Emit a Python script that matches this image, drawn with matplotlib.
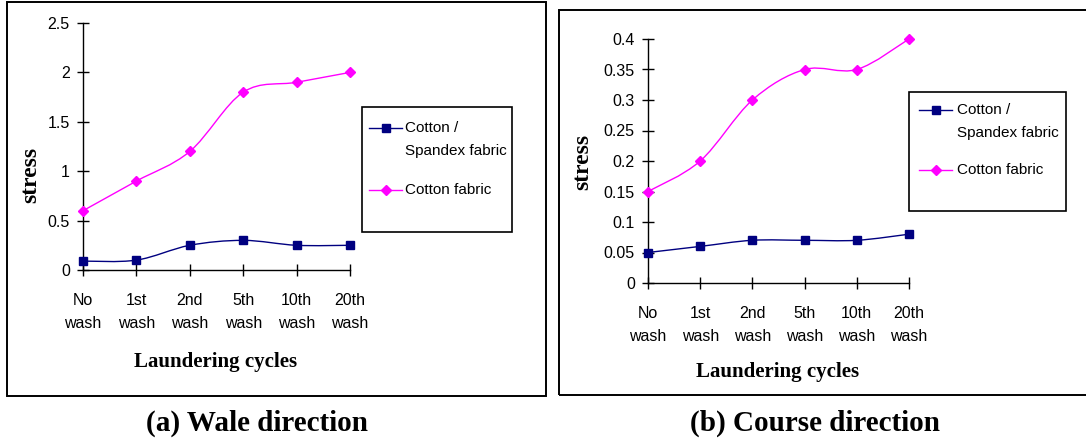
import numpy as np
import matplotlib
matplotlib.use("Agg")
import matplotlib.pyplot as plt
from matplotlib.path import Path
from matplotlib.patches import PathPatch, Rectangle
from matplotlib.lines import Line2D
from matplotlib.ticker import FormatStrFormatter

# data
cycles = ["No\nwash", "1st\nwash", "2nd\nwash", "5th\nwash", "10th\nwash", "20th\nwash"]
wale_spandex = [0.09, 0.1, 0.25, 0.3, 0.25, 0.25]
wale_cotton = [0.6, 0.9, 1.2, 1.8, 1.9, 2.0]
course_spandex = [0.05, 0.06, 0.07, 0.07, 0.07, 0.08]
course_cotton = [0.15, 0.2, 0.3, 0.35, 0.35, 0.4]
series_names = ["Cotton /\nSpandex fabric", "Cotton fabric"]

NAVY = "#000080"
MAGENTA = "#FF00FF"
W, H = 1086, 438

sans = ["Liberation Sans", "DejaVu Sans"]
serif = ["Liberation Serif", "DejaVu Serif"]

fig = plt.figure(figsize=(W / 100, H / 100), dpi=100)


def px(x, y):
    # pixel position (from top-left) -> figure fraction
    return x / W, 1 - y / H


def smooth_path(xs, ys):
    # Excel-style smoothed line as cubic bezier through the data points
    pts = np.column_stack([xs, ys]).astype(float)
    n = len(pts)
    verts = [pts[0]]
    codes = [Path.MOVETO]
    for i in range(n - 1):
        p0 = pts[max(i - 1, 0)]
        p1 = pts[i]
        p2 = pts[i + 1]
        p3 = pts[min(i + 2, n - 1)]
        verts += [p1 + (p2 - p0) / 6, p2 - (p3 - p1) / 6, p2]
        codes += [Path.CURVE4] * 3
    return Path(verts, codes)


def draw_panel(rect, spandex, cotton, ymax, ystep):
    ax = fig.add_axes(rect)
    x = np.arange(len(cycles))
    for vals, col, mk, ms in [(spandex, NAVY, "s", 5.5), (cotton, MAGENTA, "D", 5)]:
        ax.add_patch(PathPatch(smooth_path(x, vals), fill=False, edgecolor=col,
                               lw=1.0, clip_on=False))
        ax.plot(x, vals, ls="none", marker=mk, ms=ms, color=col, clip_on=False, zorder=3)
    ax.set_xlim(0, len(cycles) - 1)
    ax.set_ylim(0, ymax)
    ax.set_yticks(np.arange(0, ymax + ystep / 2, ystep))
    ax.yaxis.set_major_formatter(FormatStrFormatter("%g"))
    ax.set_xticks(x)
    ax.set_xticklabels(cycles, linespacing=1.7)
    for s in ["top", "right"]:
        ax.spines[s].set_visible(False)
    for s in ["left", "bottom"]:
        ax.spines[s].set_linewidth(1.0)
    ax.tick_params(axis="both", direction="inout", length=9, width=1.0, labelsize=11.5)
    ax.tick_params(axis="x", pad=12)
    ax.tick_params(axis="y", pad=5)
    for lab in ax.get_xticklabels() + ax.get_yticklabels():
        lab.set_fontfamily(sans)
    ax.patch.set_alpha(0)
    return ax


def draw_legend(box, line_x, text_x, ys):
    x0, y0, x1, y1 = box
    fx0, fy1 = px(x0, y0)
    fx1, fy0 = px(x1, y1)
    fig.patches.append(Rectangle((fx0, fy0), fx1 - fx0, fy1 - fy0, transform=fig.transFigure,
                                 fill=False, edgecolor="black", lw=1.2))
    for name, col, mk, ms, yy in [(series_names[0], NAVY, "s", 5.5, ys[0]),
                                  (series_names[1], MAGENTA, "D", 5, ys[1])]:
        a, b = px(line_x[0], yy)
        c, _ = px(line_x[1], yy)
        fig.lines.append(Line2D([a, c], [b, b], color=col, lw=1.0, transform=fig.transFigure))
        fig.lines.append(Line2D([(a + c) / 2], [b], color=col, marker=mk, ms=ms,
                                transform=fig.transFigure))
        # first text line sits level with the marker, next lines below it
        for k, ln in enumerate(name.split("\n")):
            tx, ty = px(text_x, yy + 23 * k)
            fig.text(tx, ty, ln, ha="left", va="center", fontsize=11, family=sans)


def outer_box(x0, y0, x1, y1):
    fx0, fy1 = px(x0, y0)
    fx1, fy0 = px(x1, y1)
    fig.patches.append(Rectangle((fx0, fy0), fx1 - fx0, fy1 - fy0, transform=fig.transFigure,
                                 fill=False, edgecolor="black", lw=1.4))


# (a) wale direction
outer_box(7, 2, 546, 396)
draw_panel([83 / W, 1 - 270 / H, 267 / W, 247 / H], wale_spandex, wale_cotton, 2.5, 0.5)
draw_legend((362, 107, 512, 232), (369, 402), 405, (128, 190))
fig.text(*px(216, 367), "Laundering cycles", ha="center", va="baseline",
         fontsize=15, fontweight="bold", family=serif)
fig.text(*px(31, 175), "stress", ha="center", va="center", rotation=90,
         fontsize=17, fontweight="bold", family=serif)
fig.text(*px(257, 431), "(a) Wale direction", ha="center", va="baseline",
         fontsize=21, fontweight="bold", family=serif)

# (b) course direction
outer_box(559, 10, 1092, 395)
draw_panel([648 / W, 1 - 283 / H, 261 / W, 244 / H], course_spandex, course_cotton, 0.4, 0.05)
draw_legend((909, 92, 1066, 211), (919, 952), 957, (110, 170))
fig.text(*px(778, 377), "Laundering cycles", ha="center", va="baseline",
         fontsize=15, fontweight="bold", family=serif)
fig.text(*px(583, 162), "stress", ha="center", va="center", rotation=90,
         fontsize=17, fontweight="bold", family=serif)
fig.text(*px(815, 431), "(b) Course direction", ha="center", va="baseline",
         fontsize=21, fontweight="bold", family=serif)

fig.savefig("out.png", dpi=100)
